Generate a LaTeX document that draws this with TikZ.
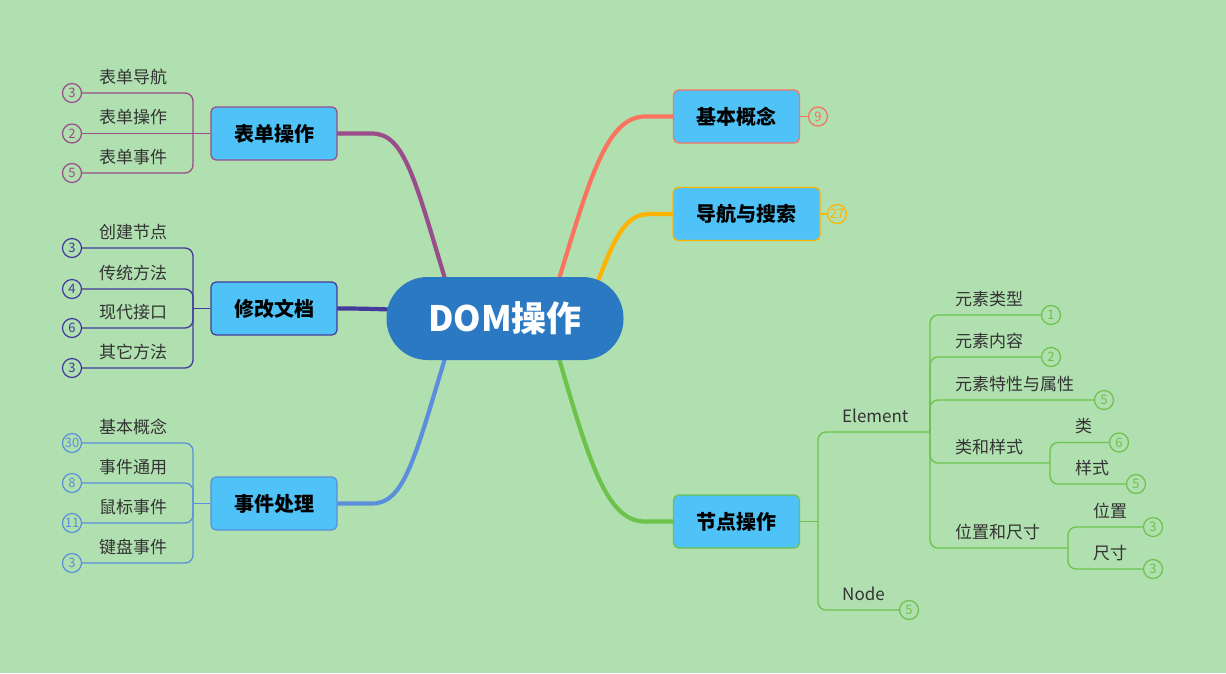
\documentclass[tikz,border=0pt]{standalone}
\usepackage{fontspec}
\newfontfamily\cjk{Noto Sans CJK SC}
\usetikzlibrary{calc}
\pgfdeclarelayer{background}
\pgfsetlayers{background,main}
\definecolor{bg}{HTML}{B0DFB0}
\definecolor{cfill}{HTML}{2B79C2}
\definecolor{bfill}{HTML}{4FC3F7}
\definecolor{purp}{HTML}{9A4C8B}
\definecolor{dblue}{HTML}{433A9B}
\definecolor{lblue}{HTML}{5B8FDB}
\definecolor{salmon}{HTML}{F9735F}
\definecolor{orng}{HTML}{FFB300}
\definecolor{grn}{HTML}{6CC24A}
\definecolor{txt}{HTML}{333333}
\tikzset{
  mainbox/.style={draw=#1, fill=bfill, line width=1.2pt, rounded corners=5pt,
    minimum width=126pt, minimum height=53pt, inner sep=0pt,
    font=\cjk\bfseries\fontsize{20}{20}\selectfont, text=black},
  cnt/.style={circle, draw=#1, text=#1, line width=1.2pt, minimum size=19pt, inner sep=0pt,
    font=\cjk\fontsize{13}{13}\selectfont},
  lbl/.style={anchor=base west, inner sep=0pt, text=txt, font=\cjk\fontsize{17}{17}\selectfont},
  conn/.style={draw=#1, line width=4.2pt, line cap=round},
  thin/.style={draw=#1, line width=1.3pt, rounded corners=8pt},
}
\begin{document}
\begin{tikzpicture}[x=1pt,y=-1pt]
\useasboundingbox (0,0) rectangle (1226,673);
% central node
\node[fill=cfill, rounded corners=41pt, minimum width=237pt, minimum height=83pt, inner sep=0pt,
  text=white, font=\cjk\bfseries\fontsize{35}{35}\selectfont] (c) at (505,318.5) {DOM操作};
% main boxes
\node[mainbox=purp] (b1) at (274,133.5) {表单操作};
\node[mainbox=dblue] (b2) at (274,308.5) {修改文档};
\node[mainbox=lblue] (b3) at (274,503.5) {事件处理};
\node[mainbox=salmon] (b4) at (736.5,116.5) {基本概念};
\node[mainbox=orng, minimum width=147pt] (b5) at (746.5,214) {导航与搜索};
\node[mainbox=grn] (b6) at (736.5,521.5) {节点操作};
% counters of main right boxes
\node[cnt=salmon] (n9) at (818,116.5) {9};
\node[cnt=orng] (n27) at (837,214) {27};
% left: form
\node[cnt=purp] (f1) at (72,93) {3};
\node[cnt=purp] (f2) at (72,133.5) {2};
\node[cnt=purp] (f3) at (72,173) {5};
\node[lbl] (tf1) at (99,83) {表单导航};
\node[lbl] (tf2) at (99,123) {表单操作};
\node[lbl] (tf3) at (99,163) {表单事件};
% left: modify
\node[cnt=dblue] (m1) at (72,248) {3};
\node[cnt=dblue] (m2) at (72,289) {4};
\node[cnt=dblue] (m3) at (72,328) {6};
\node[cnt=dblue] (m4) at (72,368) {3};
\node[lbl] (tm1) at (99,238) {创建节点};
\node[lbl] (tm2) at (99,279) {传统方法};
\node[lbl] (tm3) at (99,318) {现代接口};
\node[lbl] (tm4) at (99,358) {其它方法};
% left: events
\node[cnt=lblue] (e1) at (72,443) {30};
\node[cnt=lblue] (e2) at (72,483) {8};
\node[cnt=lblue] (e3) at (72,523) {11};
\node[cnt=lblue] (e4) at (72,563) {3};
\node[lbl] (te1) at (99,433) {基本概念};
\node[lbl] (te2) at (99,473) {事件通用};
\node[lbl] (te3) at (99,513) {鼠标事件};
\node[lbl] (te4) at (99,553) {键盘事件};
% right: node operations
\node[lbl] (tel) at (842,422) {Element};
\node[lbl] (tnd) at (842,600) {Node};
\node[cnt=grn] (nd) at (909,610) {5};
\node[cnt=grn] (r1) at (1051,315) {1};
\node[cnt=grn] (r2) at (1051,357) {2};
\node[cnt=grn] (r3) at (1104,400) {5};
\node[cnt=grn] (k1) at (1119,442.5) {6};
\node[cnt=grn] (k2) at (1136,484) {5};
\node[cnt=grn] (p1) at (1153,527) {3};
\node[cnt=grn] (p2) at (1153,569) {3};
\node[lbl] (tr1) at (955,305) {元素类型};
\node[lbl] (tr2) at (955,347) {元素内容};
\node[lbl] (tr3) at (955,390) {元素特性与属性};
\node[lbl] (tr4) at (955,453) {类和样式};
\node[lbl] (tr5) at (955,538) {位置和尺寸};
\node[lbl] (tk1) at (1075,432) {类};
\node[lbl] (tk2) at (1075,474) {样式};
\node[lbl] (tp1) at (1093,517) {位置};
\node[lbl] (tp2) at (1093,559) {尺寸};
% junctions
\coordinate (j1) at (193,133.5);
\coordinate (j2) at (193,308.5);
\coordinate (j3) at (193,503.5);
\coordinate (nj) at (818,521.5);
\coordinate (elj) at (930,432);
\coordinate (kj) at (1050,463);
\coordinate (pj) at (1068,548);
\begin{pgfonlayer}{background}
\fill[bg] (0,0) rectangle (1226,673);
% main connectors
\draw[conn=purp] (449,292) .. controls (415,180) and (405,133.5) .. (372,133.5) -- (b1.east);
\draw[conn=dblue] (405,310) .. controls (375,309) and (365,308.5) .. (b2.east);
\draw[conn=lblue] (449,345) .. controls (415,457) and (405,503.5) .. (372,503.5) -- (b3.east);
\draw[conn=salmon] (555,292) .. controls (588,185) and (605,116.5) .. (645,116.5) -- (b4.west);
\draw[conn=orng] (592,297) .. controls (615,235) and (625,214) .. (650,214) -- (b5.west);
\draw[conn=grn] (555,345) .. controls (588,457) and (605,521.5) .. (645,521.5) -- (b6.west);
% counters
\draw[thin=salmon] (b4.east) -- (n9.west);
\draw[thin=orng] (b5.east) -- (n27.west);
% left brackets
\draw[thin=purp] (f1.east) -| (j1);
\draw[thin=purp] (f3.east) -| (j1);
\draw[thin=purp] (f2.east) -- (b1.west);
\draw[thin=dblue] (m1.east) -| (j2);
\draw[thin=dblue] (m2.east) -| (j2);
\draw[thin=dblue] (m3.east) -| (j2);
\draw[thin=dblue] (m4.east) -| (j2);
\draw[thin=dblue] (j2) -- (b2.west);
\draw[thin=lblue] (e1.east) -| (j3);
\draw[thin=lblue] (e2.east) -| (j3);
\draw[thin=lblue] (e3.east) -| (j3);
\draw[thin=lblue] (e4.east) -| (j3);
\draw[thin=lblue] (j3) -- (b3.west);
% right tree
\draw[thin=grn] (b6.east) -- (nj);
\draw[thin=grn] (nj) |- (elj);
\draw[thin=grn] (nj) |- (nd.west);
\draw[thin=grn] (elj) |- (r1.west);
\draw[thin=grn] (elj) |- (r2.west);
\draw[thin=grn] (elj) |- (r3.west);
\draw[thin=grn] (elj) |- (kj);
\draw[thin=grn] (elj) |- (pj);
\draw[thin=grn] (kj) |- (k1.west);
\draw[thin=grn] (kj) |- (k2.west);
\draw[thin=grn] (pj) |- (p1.west);
\draw[thin=grn] (pj) |- (p2.west);
\end{pgfonlayer}
\end{tikzpicture}
\end{document}
